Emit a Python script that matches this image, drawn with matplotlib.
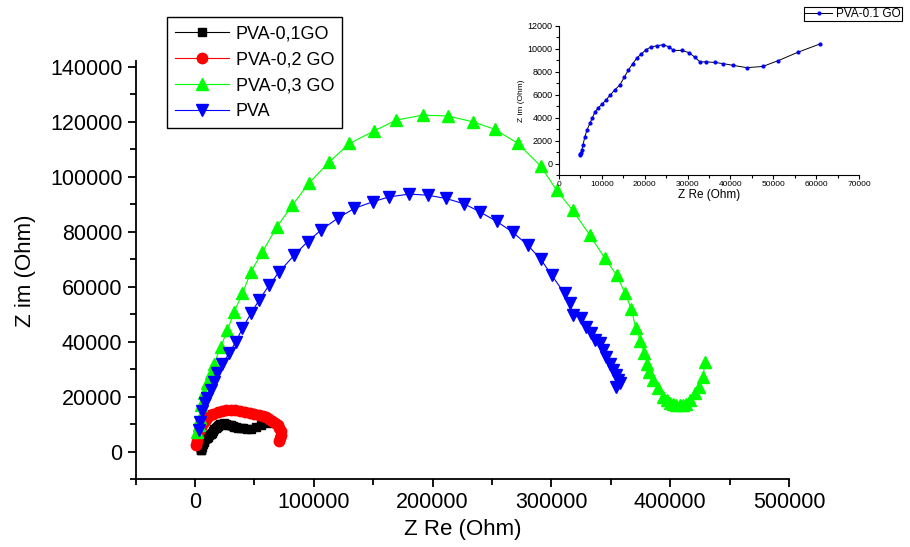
import matplotlib
matplotlib.use('Agg')
import matplotlib.pyplot as plt
from matplotlib.ticker import MultipleLocator
import numpy as np

plt.rcParams['font.family'] = ['Liberation Sans', 'DejaVu Sans']

# PVA-0,1GO (also shown in the inset)
go1_x = [4800, 4900, 5100, 5300, 5600, 6000, 6500, 7200, 7800, 8400, 9200, 9950, 11000,
         11900, 13000, 14200, 15200, 16200, 17200, 18100, 19200, 20300, 21400, 22800,
         24300, 25700, 26700, 28600, 30400, 31700, 32900, 34400, 36400, 38300, 40600,
         43800, 47500, 51100, 55800, 60800]
go1_y = [800, 750, 900, 1200, 1600, 2300, 2900, 3500, 4000, 4500, 4850, 5150, 5550,
         5950, 6400, 6850, 7500, 8150, 8700, 9150, 9550, 9900, 10150, 10250,
         10350, 10150, 9850, 9850, 9650, 9250, 8850, 8850, 8800, 8700, 8550,
         8350, 8450, 8950, 9700, 10400]

# PVA-0,2 GO
go2_x = [800, 1500, 2500, 3500, 5000, 6500, 8000, 10000, 12500, 15500, 19000, 22500,
         26000, 30000, 34000, 38000, 42000, 46000, 50000, 54000, 57500, 60000, 62500,
         65000, 67500, 69500, 71000, 72000, 72300, 71800, 71000]
go2_y = [2500, 4000, 5800, 7500, 9000, 10300, 11300, 12300, 13200, 13900, 14500, 14900,
         15100, 15200, 15100, 14900, 14600, 14200, 13800, 13400, 13100, 12600, 12000,
         11300, 10500, 9600, 8600, 7400, 6200, 5000, 4000]

# PVA-0,3 GO
go3_x = [1900, 3000, 3800, 4800, 7600, 10400, 13200, 16000, 21700, 27200, 32900, 39900,
         47000, 56700, 68900, 82000, 96100, 113000, 129900, 150900, 169200, 191600,
         212700, 233800, 252100, 271500, 290900, 304400, 317900, 332300, 344900,
         355000, 361800, 367400, 371000, 375000, 378000, 380600, 382300, 385600,
         389800, 394000, 397000, 399700, 402500, 405300, 408000, 410900, 413500,
         416500, 420700, 424400, 427800, 429200]
go3_y = [7300, 9700, 12300, 17000, 21200, 24900, 28500, 32100, 38200, 44200, 50900,
         57600, 65400, 72700, 81800, 89700, 97800, 105400, 112100, 116700, 120600,
         122400, 122100, 120000, 117300, 112200, 103900, 95100, 87800, 78800, 70400,
         64200, 57800, 51800, 45000, 40200, 36000, 32100, 29100, 26100, 23100, 20000,
         18700, 17600, 17200, 17000, 16900, 17000, 17500, 18800, 21200, 23600, 27300,
         32700]

# PVA
pva_x = [3000, 4200, 6200, 8400, 10400, 13200, 16000, 18800, 23000, 28700, 34300, 39900,
         47000, 54000, 62400, 70800, 83500, 94700, 106000, 120000, 134100, 149500,
         163600, 180400, 195900, 211400, 226800, 239500, 253800, 267300, 279900,
         290900, 300200, 311100, 315300, 318100, 325200, 329400, 333600, 336400,
         340600, 343400, 346300, 349100, 351900, 354700, 356100, 357500, 354700]
pva_y = [7900, 10800, 14800, 17700, 19400, 22400, 25500, 28500, 32100, 35800, 40000,
         44900, 50300, 55200, 60600, 65400, 71500, 76400, 80600, 84900, 88500, 90900,
         92700, 93700, 93300, 92100, 90100, 87300, 83800, 79900, 75200, 70100, 64200,
         57600, 54000, 49700, 48500, 45400, 43100, 40600, 39400, 37000, 34500, 32100,
         29700, 27900, 26100, 24900, 23600]

fig = plt.figure(figsize=(9.1, 5.47), dpi=100)
ax = fig.add_axes([0.1491, 0.1238, 0.7179, 0.7642])

ax.plot(go1_x, go1_y, '-', color='black', lw=0.8, marker='s', ms=6, label='PVA-0,1GO')
ax.plot(go2_x, go2_y, '-', color='red', lw=0.8, marker='o', ms=7.5, label='PVA-0,2 GO')
ax.plot(go3_x, go3_y, '-', color='#00ff00', lw=0.8, marker='^', ms=9, label='PVA-0,3 GO')
ax.plot(pva_x, pva_y, '-', color='blue', lw=0.8, marker='v', ms=9, label='PVA')

ax.set_xlim(-50000, 500000)
ax.set_ylim(-10000, 142000)
ax.xaxis.set_major_locator(MultipleLocator(100000))
ax.xaxis.set_minor_locator(MultipleLocator(50000))
ax.yaxis.set_major_locator(MultipleLocator(20000))
ax.yaxis.set_minor_locator(MultipleLocator(10000))
for s in ['top', 'right']:
    ax.spines[s].set_visible(False)
for s in ['left', 'bottom']:
    ax.spines[s].set_linewidth(1.3)
ax.tick_params(which='major', direction='out', length=6, width=1.3, labelsize=15.5)
ax.tick_params(which='minor', direction='out', length=4, width=1.3)
ax.set_xlabel('Z Re (Ohm)', fontsize=16, labelpad=4)
ax.set_ylabel('Z im (Ohm)', fontsize=16, labelpad=10)

leg = ax.legend(loc='upper left', bbox_to_anchor=(167 / 910, 1 - 17 / 547),
                bbox_transform=fig.transFigure, fontsize=13, handlelength=3.0,
                labelspacing=0.5, fancybox=False, edgecolor='black',
                framealpha=1, borderpad=0.45, handletextpad=0.35, borderaxespad=0)
leg.get_frame().set_linewidth(1.0)

# inset
ins = fig.add_axes([0.6143, 0.680, 0.3297, 0.273])
ins.plot(go1_x, go1_y, '-', color='black', lw=0.7, marker='o', ms=2.0,
         mfc='blue', mec='blue', label='PVA-0.1 GO')
ins.set_xlim(0, 70000)
ins.set_ylim(-1000, 12000)
ins.xaxis.set_major_locator(MultipleLocator(10000))
ins.xaxis.set_minor_locator(MultipleLocator(5000))
ins.yaxis.set_major_locator(MultipleLocator(2000))
ins.yaxis.set_minor_locator(MultipleLocator(1000))
for s in ['top', 'right']:
    ins.spines[s].set_visible(False)
for s in ['left', 'bottom']:
    ins.spines[s].set_linewidth(0.8)
ins.tick_params(which='major', direction='out', length=3, width=0.8, labelsize=6, pad=1.5)
ins.tick_params(axis='y', labelsize=6.5)
ins.tick_params(which='minor', direction='out', length=2, width=0.8)
ins.set_xlabel('Z Re (Ohm)', fontsize=8.5, labelpad=0.5)
ins.set_ylabel('Z im (Ohm)', fontsize=6, labelpad=2)
ileg = ins.legend(loc='upper left', bbox_to_anchor=(804 / 910, 1 - 7 / 547),
                  bbox_transform=fig.transFigure, fontsize=8.5, handlelength=2.3,
                  fancybox=False, edgecolor='black', framealpha=1,
                  borderpad=0.1, handletextpad=0.3, borderaxespad=0)
ileg.get_frame().set_linewidth(0.8)

fig.savefig('out.png', dpi=100)
